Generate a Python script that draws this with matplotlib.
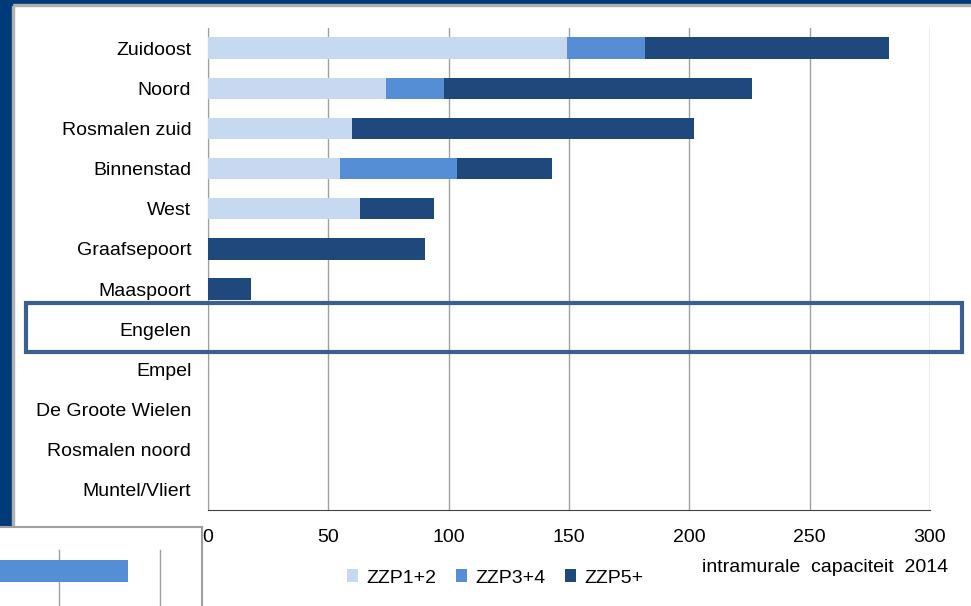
import matplotlib
matplotlib.use("Agg")
import matplotlib.pyplot as plt
from matplotlib.patches import Rectangle
import numpy as np

plt.rcParams['font.family'] = ['Liberation Sans', 'DejaVu Sans']

categories = ["Zuidoost", "Noord", "Rosmalen zuid", "Binnenstad", "West", "Graafsepoort",
              "Maaspoort", "Engelen", "Empel", "De Groote Wielen", "Rosmalen noord", "Muntel/Vliert"]
zzp12 = [149, 74, 60, 55, 63, 0, 0, 0, 0, 0, 0, 0]
zzp34 = [32.5, 24, 0, 48.5, 0, 0, 0, 0, 0, 0, 0, 0]
zzp5 = [101.5, 128, 142, 39.5, 31, 90, 18, 0, 0, 0, 0, 0]
series_names = ["ZZP1+2", "ZZP3+4", "ZZP5+"]
colors = ["#c6d9f1", "#558ed5", "#1f497d"]
xticks = [0, 50, 100, 150, 200, 250, 300]
xlabel = "intramurale  capaciteit  2014"

W, H = 971, 606
FS = 14
fig = plt.figure(figsize=(W / 100, H / 100), dpi=100)
fig.patch.set_facecolor("white")

# frame decorations
fig.add_artist(Rectangle((0, 1 - 4 / H), 1, 4 / H, transform=fig.transFigure, color="#003a78", zorder=0))
fig.add_artist(Rectangle((12 / W, 1 - 6 / H), 1, 2 / H, transform=fig.transFigure, color="#b0b0b0", zorder=0))
fig.add_artist(Rectangle((0, 1 - 525 / H), 12 / W, 525 / H, transform=fig.transFigure, color="#003a78", zorder=0))
fig.add_artist(Rectangle((12 / W, 1 - 525 / H), 2 / W, 519 / H, transform=fig.transFigure, color="#b0b0b0", zorder=0))

ax = fig.add_axes([208 / W, 1 - 510 / H, 722 / W, 482 / H])
y = np.arange(len(categories))
left = np.zeros(len(categories))
for vals, name, c in zip([zzp12, zzp34, zzp5], series_names, colors):
    ax.barh(y, vals, left=left, height=0.53, color=c, label=name, zorder=3)
    left += np.array(vals)

ax.set_ylim(len(categories) - 0.5, -0.5)
ax.set_xlim(0, 300)
ax.set_xticks(xticks)
ax.set_xticklabels([str(t) for t in xticks], fontsize=FS)
ax.set_yticks(y)
ax.set_yticklabels(categories, fontsize=FS)
ax.tick_params(axis="both", length=0)
ax.tick_params(axis="x", pad=14)
ax.tick_params(axis="y", pad=12)
ax.grid(axis="x", color="#a0a0a0", linewidth=1, zorder=0)
for s in ["top", "right"]:
    ax.spines[s].set_visible(False)
ax.spines["left"].set_color("#a0a0a0")
ax.spines["bottom"].set_color("#404040")

handles, labels = ax.get_legend_handles_labels()
fig.legend(handles, labels, loc="center", bbox_to_anchor=(495 / W, 1 - 578 / H), ncol=3,
           frameon=False, fontsize=FS, handlelength=0.6, handleheight=0.6, columnspacing=1.0,
           handletextpad=0.4)
fig.text(948 / W, 1 - 568 / H, xlabel, ha="right", va="center", fontsize=FS)

# Engelen highlight box
fig.add_artist(Rectangle((26 / W, 1 - 352 / H), (962 - 26) / W, 49 / H, transform=fig.transFigure,
                         fill=False, edgecolor="#3b5f8f", linewidth=3, zorder=10))

# bottom-left fragment of another chart
ax2 = fig.add_axes([0, 0, 202 / W, 79 / H])
ax2.barh([0], [128], height=0.92, color="#558ed5", zorder=3)
ax2.set_xlim(0, 202)
ax2.set_ylim(-1.46, 1.84)
for gx in [59, 160]:
    ax2.plot([gx, gx], [-1.46, 0.88], color="#a0a0a0", linewidth=1, zorder=1)
ax2.set_xticks([])
ax2.set_yticks([])
for s in ["left", "bottom"]:
    ax2.spines[s].set_visible(False)
for s in ["top", "right"]:
    ax2.spines[s].set_color("#a0a0a0")
    ax2.spines[s].set_linewidth(1.5)

fig.savefig("out.png", dpi=100)
